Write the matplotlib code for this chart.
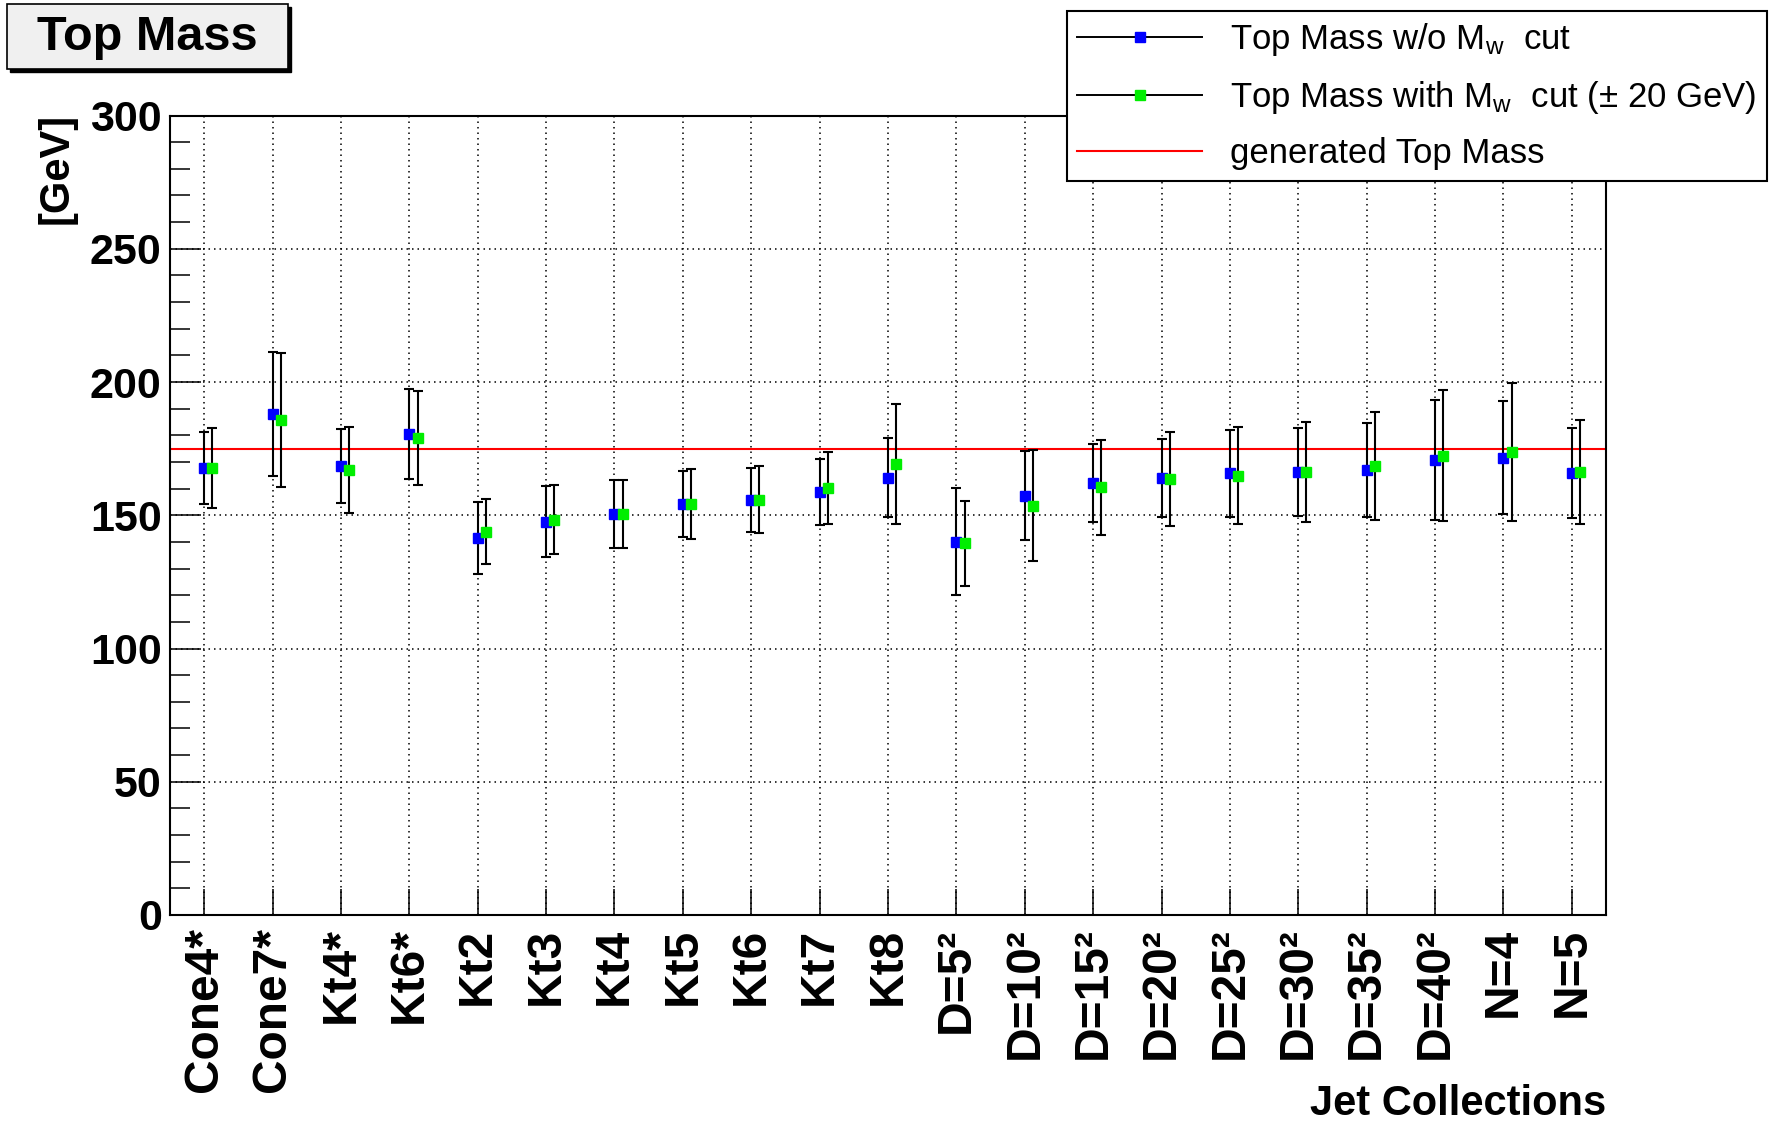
import matplotlib
matplotlib.use("Agg")
import matplotlib.pyplot as plt
from matplotlib.lines import Line2D
from matplotlib.patches import Rectangle
import numpy as np

plt.rcParams['font.family'] = ['Liberation Sans', 'DejaVu Sans']
plt.rcParams['mathtext.fontset'] = 'custom'
plt.rcParams['mathtext.rm'] = 'Liberation Sans'
plt.rcParams['mathtext.it'] = 'Liberation Sans:italic'
plt.rcParams['mathtext.bf'] = 'Liberation Sans:bold'

# ---------------- data ----------------
categories = ["Cone4*", "Cone7*", "Kt4*", "Kt6*", "Kt2", "Kt3", "Kt4", "Kt5",
              "Kt6", "Kt7", "Kt8", "D=5²", "D=10²", "D=15²", "D=20²", "D=25²",
              "D=30²", "D=35²", "D=40²", "N=4", "N=5"]
mass_nocut = [167.8, 188.0, 168.5, 180.5, 141.4, 147.6, 150.5, 154.2, 155.9, 158.7, 164.1,
              140.1, 157.4, 162.0, 164.1, 165.7, 166.3, 167.1, 170.7, 171.6, 165.7]
err_nocut = [13.6, 23.2, 13.8, 16.8, 13.5, 13.2, 12.8, 12.5, 12.0, 12.4, 14.8,
             20.2, 16.6, 14.7, 14.6, 16.2, 16.5, 17.6, 22.6, 21.3, 16.9]
mass_cut = [167.8, 185.7, 167.1, 178.9, 143.9, 148.4, 150.6, 154.2, 155.9, 160.3, 169.3,
            139.4, 153.6, 160.5, 163.5, 164.8, 166.3, 168.6, 172.4, 173.9, 166.3]
err_cut = [14.9, 25.0, 16.1, 17.6, 12.3, 13.0, 12.8, 13.2, 12.7, 13.5, 22.4,
           16.0, 20.7, 17.9, 17.6, 18.2, 18.8, 20.2, 24.7, 25.9, 19.4]
generated_mass = 175.0
y_ticks = [0, 50, 100, 150, 200, 250, 300]

W, H = 1772, 1123
fig = plt.figure(figsize=(W / 100, H / 100), dpi=100)

ax_l, ax_r, ax_t, ax_b = 170, 1606, 115.5, 915
ax = fig.add_axes([ax_l / W, 1 - ax_b / H, (ax_r - ax_l) / W, (ax_b - ax_t) / H])

x = np.arange(len(categories)) + 0.5
offset = 0.12

ax.set_xlim(0, len(categories))
ax.set_ylim(0, 300)

# grid
for xi in x:
    ax.axvline(xi, color='black', lw=1.1, dashes=(1, 2.6), zorder=0)
for yv in y_ticks[1:-1]:
    ax.axhline(yv, color='black', lw=1.1, dashes=(1, 2.6), zorder=0)

ax.axhline(generated_mass, color='#ff0000', lw=1.5, zorder=1)

ekw = dict(fmt='s', ecolor='black', elinewidth=1.5, capsize=3.6, capthick=1.5,
           markersize=6.5, zorder=3)
ax.errorbar(x, mass_nocut, yerr=err_nocut, color='#0000ff', mec='#0000ff', **ekw)
ax.errorbar(x + offset, mass_cut, yerr=err_cut, color='#00ee00', mec='#00ee00', **ekw)

# ticks
ax.set_yticks(y_ticks)
ax.set_yticks(np.arange(0, 301, 10), minor=True)
ax.set_xticks(x)
ax.set_xticklabels(categories, rotation=90, fontsize=34.5, fontweight='bold', va='top')
ax.tick_params(axis='y', which='major', direction='in', length=22, width=1.1,
               labelsize=31, pad=6)
ax.tick_params(axis='y', which='minor', direction='in', length=14.5, width=1.1)
ax.tick_params(axis='x', which='major', direction='in', length=19, width=1.1, pad=9)
for lab in ax.get_yticklabels():
    lab.set_fontweight('bold')
for s in ax.spines.values():
    s.set_linewidth(1.5)

# axis titles
fig.text(57 / W, 1 - 113 / H, '[GeV]', rotation=90, ha='center', va='top',
         fontsize=30, fontweight='bold')
fig.text(1606 / W, 1 - 1104 / H, 'Jet Collections', ha='right', va='center',
         fontsize=30, fontweight='bold')

# title box with shadow
bx0, by0, bx1, by1 = 7, 4, 288, 69
fig.patches.append(Rectangle(((bx0 + 3) / W, 1 - (by1 + 3) / H), (bx1 - bx0) / W,
                             (by1 - by0) / H, transform=fig.transFigure,
                             facecolor='black', edgecolor='black', lw=1, zorder=1))
fig.patches.append(Rectangle((bx0 / W, 1 - by1 / H), (bx1 - bx0) / W, (by1 - by0) / H,
                             transform=fig.transFigure, facecolor='#f0f0f0',
                             edgecolor='black', lw=1.2, zorder=2))
fig.text((bx0 + bx1) / 2 / W, 1 - 38 / H, 'Top Mass', ha='center', va='center',
         fontsize=35, fontweight='bold', zorder=3)

# legend
handles = [
    Line2D([], [], color='black', lw=1.4, marker='s', markersize=6.5,
           markerfacecolor='#0000ff', markeredgecolor='#0000ff'),
    Line2D([], [], color='black', lw=1.4, marker='s', markersize=6.5,
           markerfacecolor='#00ee00', markeredgecolor='#00ee00'),
    Line2D([], [], color='#ff0000', lw=1.5),
]
labels = [r'Top Mass w/o M$_{\mathrm{w}}$  cut',
          r'Top Mass with M$_{\mathrm{w}}$  cut ($\pm$ 20 GeV)',
          'generated Top Mass']
leg = ax.legend(handles, labels, loc='upper right',
                bbox_to_anchor=(1767 / W, 1 - 11 / H), bbox_transform=fig.transFigure,
                fontsize=25, frameon=True, fancybox=False, framealpha=1,
                edgecolor='black', handlelength=3.6, handletextpad=0.8,
                labelspacing=0.6, borderpad=0.3, borderaxespad=0)
leg.get_frame().set_linewidth(1.5)

fig.savefig('out.png', dpi=100)
